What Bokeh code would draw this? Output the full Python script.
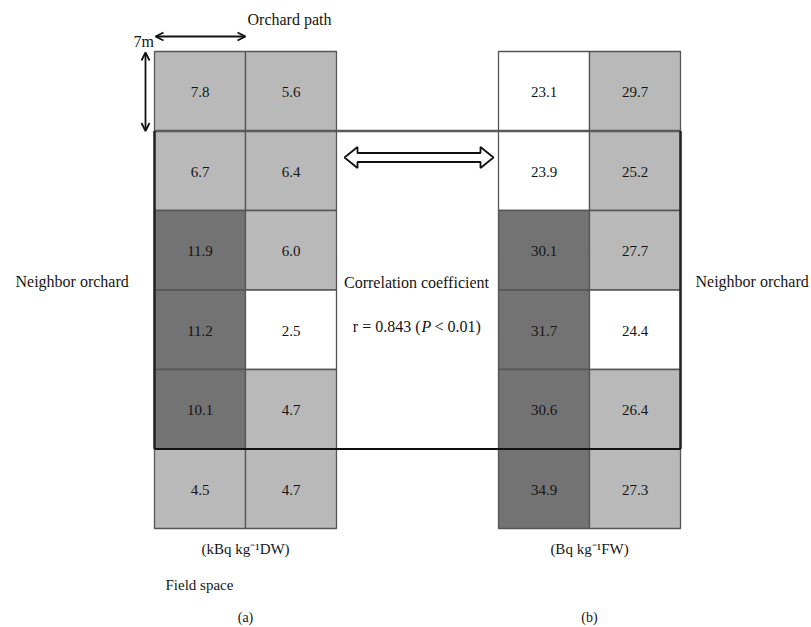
from bokeh.plotting import figure
from bokeh.models import Range1d, ColumnDataSource, Arrow, OpenHead
from bokeh.core.properties import value
from bokeh.embed import file_html
from bokeh.resources import INLINE

# ---------------- data ----------------
rows = [1, 2, 3, 4, 5, 6]
cols = [1, 2]
soil_col1 = [7.8, 6.7, 11.9, 11.2, 10.1, 4.5]   # (a) kBq kg-1 DW
soil_col2 = [5.6, 6.4, 6.0, 2.5, 4.7, 4.7]
fruit_col1 = [23.1, 23.9, 30.1, 31.7, 30.6, 34.9]  # (b) Bq kg-1 FW
fruit_col2 = [29.7, 25.2, 27.7, 24.4, 26.4, 27.3]
soil_breaks = [3.0, 10.0]
fruit_breaks = [25.0, 30.0]
shade_colors = ["#ffffff", "#b9b9b9", "#737373"]
unit_a = "(kBq kg\u207b\u00b9DW)"
unit_b = "(Bq kg\u207b\u00b9FW)"
corr_r = "0.843"
corr_p = "0.01"

# ---------------- layout ----------------
GX = {"a": 154.0, "b": 498.0}
CW = 91.0
Y0 = 51.0
RH = 79.5
FONT = value("Liberation Serif")
TC = "#151515"

p = figure(width=811, height=627, x_range=Range1d(0, 811), y_range=Range1d(627, 0),
           output_backend="svg", toolbar_location=None, min_border=0)
p.axis.visible = False
p.grid.visible = False
p.outline_line_color = None
p.background_fill_color = "white"


def shade(v, breaks):
    k = 0
    for b in breaks:
        if v >= b:
            k += 1
    return shade_colors[k]


def grid_source(key, c1, c2, breaks):
    d = dict(left=[], right=[], top=[], bottom=[], x=[], y=[], color=[], label=[])
    for ci, col in enumerate([c1, c2]):
        for ri, v in enumerate(col):
            l = GX[key] + ci * CW
            t = Y0 + ri * RH
            d["left"].append(l)
            d["right"].append(l + CW)
            d["top"].append(t)
            d["bottom"].append(t + RH)
            d["x"].append(l + CW / 2)
            d["y"].append(t + RH / 2 + 1)
            d["color"].append(shade(v, breaks))
            d["label"].append(f"{v:.1f}")
    return ColumnDataSource(d)


for key, c1, c2, br in [("a", soil_col1, soil_col2, soil_breaks),
                        ("b", fruit_col1, fruit_col2, fruit_breaks)]:
    src = grid_source(key, c1, c2, br)
    p.quad(left="left", right="right", top="top", bottom="bottom", source=src,
           fill_color="color", line_color="#555555", line_width=1.3)
    p.text(x="x", y="y", text="label", source=src, text_font=FONT,
           text_font_size="15px", text_color=TC, text_align="center",
           text_baseline="middle")

# thick frame around rows 2-5 spanning both grids
fl = GX["a"]
fr = GX["b"] + 2 * CW
ft = Y0 + RH
fb = Y0 + 5 * RH
p.line(x=[fl, fr], y=[ft, ft], line_color="#5a5a5a", line_width=2.5)
p.line(x=[fl, fr], y=[fb, fb], line_color="#111111", line_width=2)
p.line(x=[fl, fl], y=[ft, fb], line_color="#222222", line_width=2.5)
p.line(x=[fr, fr], y=[ft, fb], line_color="#222222", line_width=2.5)

# dimension arrows
p.add_layout(Arrow(x_start=GX["a"] + 1, y_start=36, x_end=GX["a"] + CW, y_end=36,
                   line_width=1.8, line_color="#111111",
                   start=OpenHead(size=8, line_width=1.8, line_color="#111111"),
                   end=OpenHead(size=8, line_width=1.8, line_color="#111111")))
p.add_layout(Arrow(x_start=145, y_start=Y0 + 1, x_end=145, y_end=Y0 + RH,
                   line_width=1.8, line_color="#111111",
                   start=OpenHead(size=8, line_width=1.8, line_color="#111111"),
                   end=OpenHead(size=8, line_width=1.8, line_color="#111111")))

# hollow double arrow between the grids
ax0, ax1, ay = 344.0, 493.0, 157.0
sh, hh, hl = 4.5, 10.5, 13.0
xs = [ax0, ax0 + hl, ax0 + hl, ax1 - hl, ax1 - hl, ax1, ax1 - hl, ax1 - hl, ax0 + hl, ax0 + hl]
ys = [ay, ay - hh, ay - sh, ay - sh, ay - hh, ay, ay + hh, ay + sh, ay + sh, ay + hh]
p.patch(x=xs, y=ys, fill_color="white", line_color="#111111", line_width=1.8)

# texts
def txt(x, y, s, align="center", size="16px", style="normal", color=TC):
    p.text(x=[x], y=[y], text=[s], text_font=FONT, text_font_size=size,
           text_color=color, text_align=align, text_baseline="middle",
           text_font_style=style)

txt(289, 19, "Orchard path")
txt(133, 41, "7m", align="left")
txt(15, 281, "Neighbor orchard", align="left")
txt(695, 281, "Neighbor orchard", align="left")
txt(416, 282, "Correlation coefficient")
txt(420, 326, f"r = {corr_r} (", align="right")
txt(421, 326, "P", align="left", style="italic")
txt(434, 326, f"< {corr_p})", align="left")
txt(GX["a"] + CW, 548, unit_a, size="15px")
txt(GX["b"] + CW, 548, unit_b, size="15px")
txt(165, 584, "Field space", align="left", size="15px")
txt(GX["a"] + CW, 617, "(a)", size="14px")
txt(GX["b"] + CW, 617, "(b)", size="14px")

open("out.html", "w").write(file_html(p, INLINE))
